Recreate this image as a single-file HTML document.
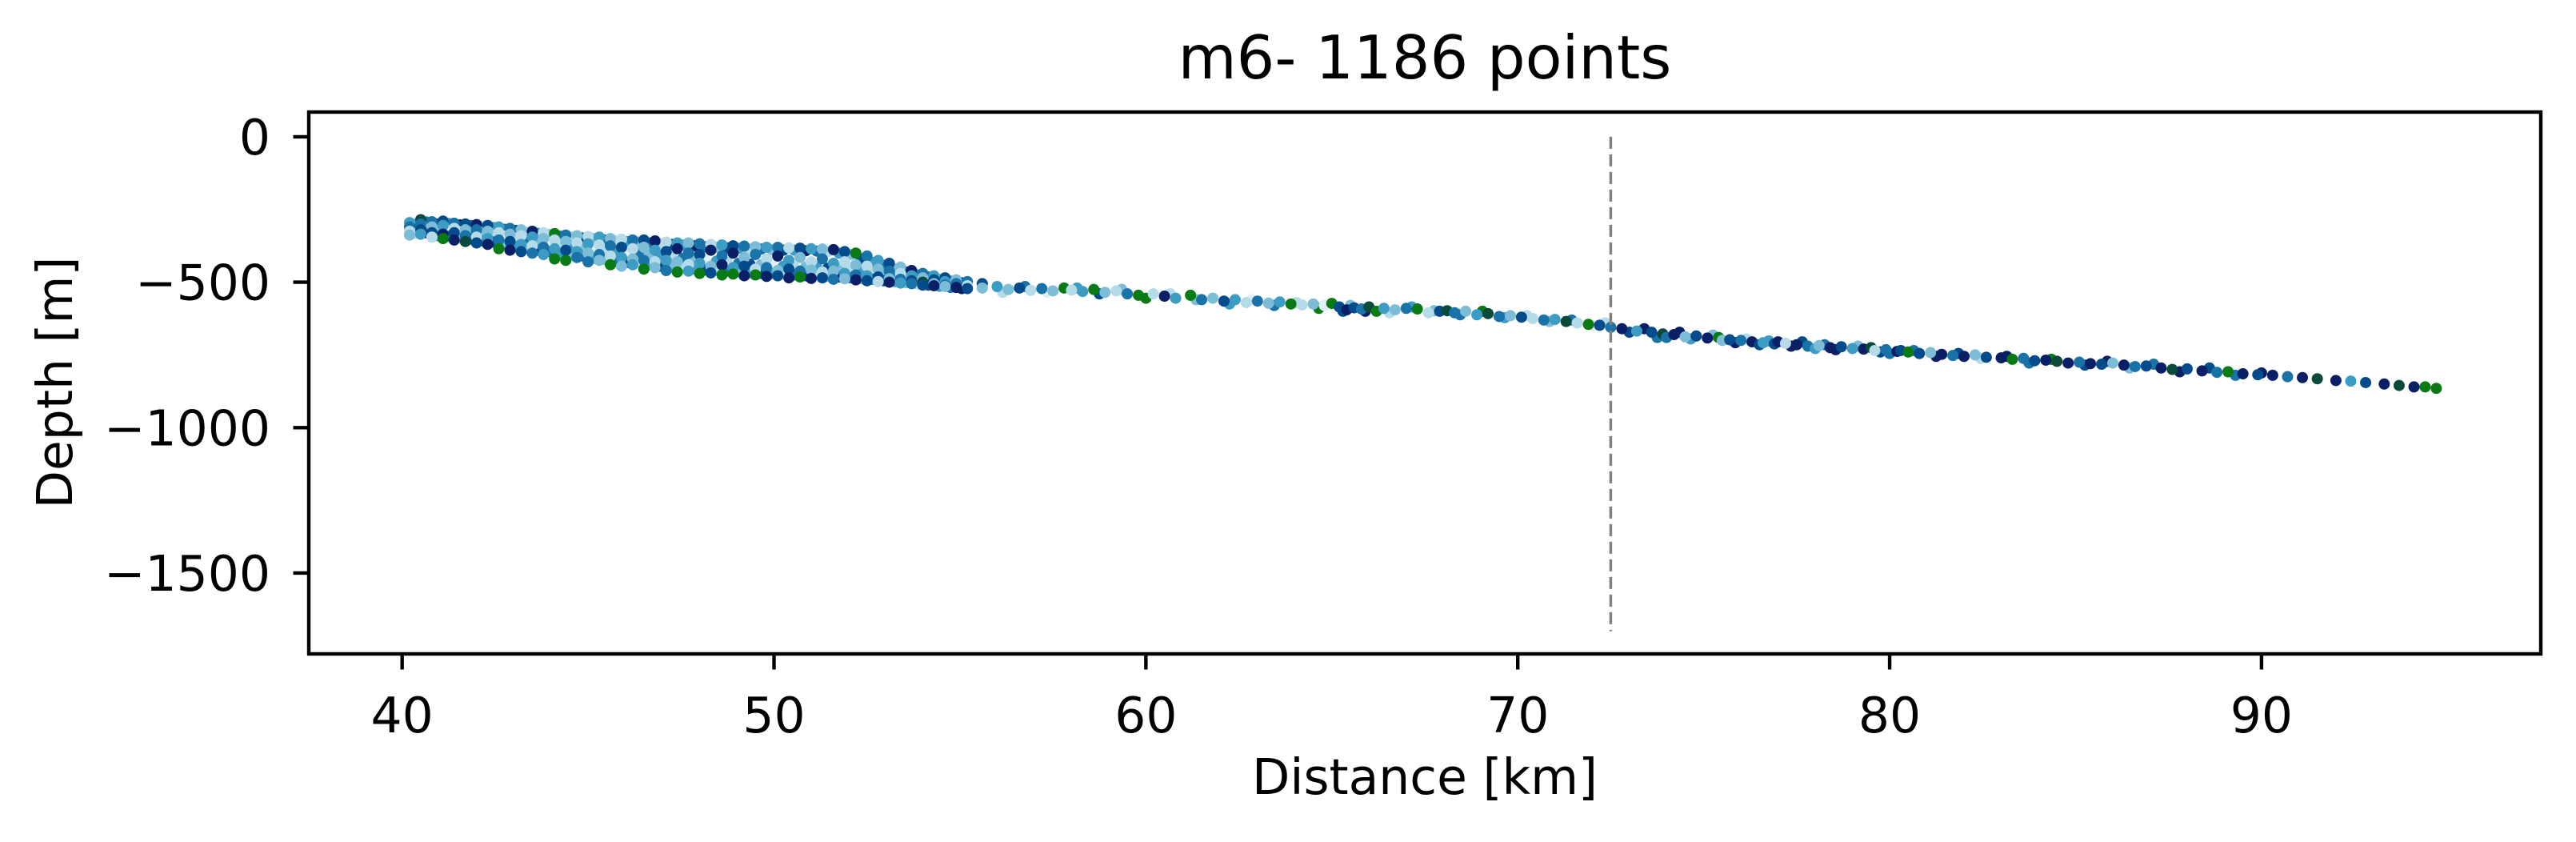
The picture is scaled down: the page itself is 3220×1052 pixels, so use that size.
<!DOCTYPE html>
<html><head><meta charset="utf-8"><style>html,body{margin:0;padding:0;background:#fff}svg{display:block}text{font-family:"DejaVu Sans","Liberation Sans",sans-serif;fill:#000}</style></head>
<body>
<svg id="chart" width="3220" height="1052" xmlns="http://www.w3.org/2000/svg">
<rect width="3220" height="1052" fill="#fff"/>
<g id="marks"></g>
<g id="axes"></g>
</svg>
<script>
const xTicks = [40, 50, 60, 70, 80, 90];
const yTicks = [0, -500, -1000, -1500];
const dividerKm = 72.5;
const dividerDepths = [0, -1700];
const palette = ['#0b1f66','#034b8a','#1a73a8','#3d9cc4','#7cbcd6','#b6dbe8','#e0f0f5','#0a7a14','#0b4a3a'];

const bandX = [40.2,40.5,40.8,41.1,41.4,41.7,42.0,42.3,42.6,42.9,43.2,43.5,43.8,44.1,44.4,44.7,45.0,45.3,45.6,45.9,46.2,46.5,46.8,47.1,47.4,47.7,48.0,48.3,48.6,48.9,49.2,49.5,49.8,50.1,50.4,50.7,51.0,51.3,51.6,51.9,52.2,52.5,52.8,53.1,53.4,53.7,54.0,54.3,54.6,54.9,55.2,55.6];
const bandDepths = [
[-295,-310,-325,-338],[-285,-300,-320,-335],[-292,-310,-330,-345],[-290,-305,-335,-350],
[-297,-315,-330,-355],[-300,-320,-340,-360],[-302,-320,-345,-365],[-305,-325,-350,-370],
[-310,-330,-355,-385],[-315,-335,-360,-390],[-320,-340,-370,-395],[-325,-345,-375,-400],
[-330,-350,-380,-405],[-333,-355,-385,-420],[-338,-360,-390,-425],[-340,-365,-395,-415],
[-343,-368,-400,-430],[-345,-372,-405,-425],[-350,-375,-410,-440],[-352,-380,-415,-445],
[-355,-385,-420,-440],[-355,-380,-425,-455],[-358,-390,-430,-450],[-362,-395,-425,-460],
[-365,-385,-430,-465],[-365,-400,-440,-462],[-368,-405,-435,-470],[-370,-390,-445,-468],
[-372,-410,-440,-475],[-375,-400,-450,-472],[-376,-415,-445,-478],[-378,-405,-455,-475],
[-380,-420,-450,-480],[-380,-410,-460,-478],[-382,-425,-455,-485],[-383,-415,-462,-482],
[-385,-430,-458,-487],[-386,-420,-465,-485],[-388,-435,-462,-490],[-395,-430,-470,-488],
[-400,-440,-475,-492],[-410,-445,-478,-495],[-425,-455,-482,-498],[-435,-462,-488,-500],
[-448,-470,-490,-503],[-460,-478,-495,-505],[-470,-485,-500,-510],[-478,-492,-505,-512],
[-485,-498,-510,-515],[-492,-505,-518],[-498,-512,-522],[-505,-520]];
const bandColors = [
[3,2,5,4],[8,2,1,3],[2,4,1,5],[1,3,0,7],[2,5,1,0],[1,4,2,8],[0,2,5,1],[1,4,3,0],
[3,5,2,7],[2,4,1,0],[4,5,3,1],[0,3,5,2],[5,4,2,3],[7,5,3,7],[2,4,1,7],[4,5,3,2],
[5,3,4,2],[3,5,2,4],[4,2,5,7],[5,1,3,4],[2,5,4,3],[1,4,2,7],[0,3,5,4],[5,1,3,2],
[3,0,4,7],[4,2,5,3],[2,1,3,7],[5,0,4,1],[3,2,0,7],[1,0,3,7],[2,4,1,0],[4,2,5,7],
[3,5,2,0],[2,0,4,1],[5,3,1,0],[1,4,2,7],[3,5,4,0],[4,2,5,1],[0,3,4,2],[1,5,3,4],
[7,4,2,0],[2,5,3,1],[3,4,1,5],[1,2,4,0],[4,5,2,3],[0,3,1,2],[2,4,8,1],[3,1,4,0],
[1,3,2,4],[4,2,0],[2,5,1],[1,4]];

const fillX = [40.35,40.65,40.95,41.25,41.55,41.85,42.15,42.45,42.75,43.05,43.35,43.65,43.95,44.25,44.55,44.85,45.15,45.45,45.75,46.05,46.35,46.65,46.95,47.25,47.55,47.85,48.15,48.45,48.75,49.05,49.35,49.65,49.95,50.25,50.55,50.85,51.15,51.45,51.75,52.05,52.35,52.65,52.95,53.25,53.55,53.85,54.15,54.45,54.75,55.05];
const fillDepths = [
[-300,-318,-332],[-293,-312,-330],[-300,-322,-340],[-298,-318,-342],[-303,-325,-348],[-305,-330,-352],[-308,-333,-358],[-312,-338,-362],
[-318,-342,-372],[-322,-348,-378],[-328,-355,-385],[-332,-360,-390],[-336,-365,-395],[-342,-370,-402],[-345,-375,-408],[-348,-380,-410],
[-350,-385,-418],[-355,-390,-422],[-358,-395,-428],[-360,-398,-432],[-362,-402,-435],[-365,-405,-440],[-368,-410,-445],[-370,-412,-450],
[-372,-418,-452],[-375,-420,-455],[-378,-425,-458],[-380,-428,-460],[-382,-432,-462],[-383,-435,-465],[-385,-438,-468],[-386,-440,-470],
[-388,-442,-470],[-390,-445,-472],[-390,-448,-475],[-392,-448,-478],[-393,-450,-478],[-395,-452,-480],[-400,-455,-482],[-405,-458,-485],
[-420,-462,-488],[-432,-468,-490],[-442,-475,-495],[-455,-482,-498],[-465,-488,-502],[-475,-495,-506],[-482,-500,-510],[-490,-505,-514],
[-496,-510,-518],[-502,-515,-522]];
const fillColors = [
[4,1,5],[2,5,0],[1,4,3],[3,6,2],[0,5,4],[2,3,1],[5,4,2],[3,5,1],
[2,6,4],[1,5,3],[5,2,4],[3,4,1],[4,6,2],[2,5,3],[5,3,4],[1,4,2],
[4,6,3],[2,5,4],[5,3,2],[3,6,1],[4,2,5],[2,4,3],[5,3,1],[1,5,4],
[3,2,5],[0,4,3],[2,6,1],[4,3,5],[1,5,2],[3,2,4],[5,1,3],[2,4,1],
[4,6,3],[1,3,5],[3,5,2],[0,4,1],[2,3,5],[5,1,4],[3,4,0],[4,5,2],
[1,3,4],[3,5,2],[2,4,1],[4,2,3],[1,5,4],[3,2,5],[2,4,1],[4,1,3],
[3,5,2],[1,4,0]];

const lineX = [56.0,56.3,56.6,56.9,57.2,57.5,57.8,58.0,58.3,58.6,58.9,59.2,59.5,59.8,60.2,60.5,60.8,61.2,61.5,61.8,62.1,62.4,62.7,63.0,63.3,63.6,63.9,64.2,64.5,64.8,65.0,65.2,65.4,65.6,65.8,66.0,66.2,66.4,66.7,67.0,67.3,67.6,67.9,68.1,68.3,68.6,68.9,69.2,69.5,69.8,70.1,70.4,70.7,71.0,71.3,71.6,71.9,72.2,72.5,72.8,73.2,73.6,73.9,74.0,74.2,74.5,74.8,75.1,75.4,75.5,75.7,76.0,76.3,76.5,76.6,76.9,77.0,77.2,77.5,77.8,78.0,78.1,78.4,78.7,79.0,79.3,79.5,79.6,79.9,80.0,80.2,80.3,80.5,80.8,81.1,81.4,81.7,82.0,82.3,82.6,83.0,83.3,83.6,83.9,84.2,84.5,84.8,85.1,85.4,85.7,86.0,86.3,86.6,86.9,87.3,87.6,88.0,88.4,88.8,89.1,89.5,89.9,90.3,90.7,91.1,91.5,92.0,92.4,92.8,93.3,93.7,94.1,94.4,94.7];
const lineDepth = [-515,-525,-520,-528,-522,-530,-520,-527,-532,-525,-535,-530,-540,-545,-540,-548,-555,-545,-560,-555,-565,-560,-570,-565,-572,-568,-575,-578,-575,-580,-573,-585,-595,-588,-592,-585,-600,-590,-595,-590,-592,-605,-600,-598,-605,-600,-612,-608,-618,-615,-620,-625,-630,-628,-635,-640,-645,-648,-655,-660,-668,-672,-678,-690,-680,-688,-685,-692,-690,-700,-698,-700,-705,-715,-708,-712,-705,-710,-715,-720,-728,-718,-725,-722,-728,-730,-725,-735,-732,-745,-738,-735,-740,-745,-742,-748,-752,-755,-750,-758,-760,-765,-762,-770,-768,-772,-778,-775,-780,-782,-778,-785,-790,-788,-795,-800,-798,-805,-810,-808,-815,-818,-820,-825,-828,-832,-838,-840,-845,-850,-855,-860,-860,-865];
const lineColor = [3,4,1,5,2,4,7,5,3,7,4,5,2,7,5,0,3,7,2,4,1,3,5,2,4,3,7,5,4,6,7,1,0,1,2,8,7,3,4,2,7,5,1,8,2,4,3,8,2,4,1,5,2,3,8,5,7,1,2,0,3,1,8,2,0,4,1,0,7,4,1,2,0,1,3,1,0,5,0,2,3,4,0,1,3,0,8,5,2,2,0,1,7,1,4,0,2,0,4,1,0,7,2,1,0,8,0,2,0,1,4,0,2,1,0,8,1,0,2,7,0,1,0,2,0,8,0,3,1,0,8,0,7,7];

const extraX = [56.15,56.75,57.35,58.15,58.75,59.35,60.0,60.65,61.35,62.25,62.85,63.45,64.05,64.65,65.3,65.5,65.9,66.55,67.15,67.75,68.45,69.05,69.65,70.25,70.85,71.45,72.05,72.35,73.0,73.4,73.75,74.35,74.65,75.25,75.85,76.15,76.75,77.35,77.65,78.25,78.55,79.15,79.75,80.65,81.25,81.85,82.45,83.15,83.75,84.35,85.25,85.85,86.45,87.1,87.8,88.6,89.3,90.0];
const extraDepth = [-535,-515,-535,-520,-540,-525,-555,-540,-560,-575,-560,-580,-570,-590,-600,-580,-600,-605,-585,-598,-612,-600,-622,-615,-635,-630,-650,-640,-672,-660,-690,-672,-695,-682,-708,-695,-702,-720,-705,-715,-732,-720,-740,-735,-755,-745,-762,-755,-778,-765,-785,-772,-795,-782,-808,-795,-820,-812];
const extraColor = [5,2,6,3,1,4,7,5,4,3,6,2,5,7,1,4,0,5,3,4,2,7,3,5,4,2,6,5,1,0,2,0,3,4,0,5,3,0,1,2,0,4,1,2,0,1,5,0,2,7,1,0,4,2,0,1,2,0];

const L=386, R=3176, T=140, B=817;
const X0=37.49, X1=97.51, Y0=-1778, Y1=85;
const sx = v => L + (v - X0) / (X1 - X0) * (R - L);
const sy = v => B - (v - Y0) / (Y1 - Y0) * (B - T);
const NS = 'http://www.w3.org/2000/svg';
const marks = document.getElementById('marks');
const axes = document.getElementById('axes');
const RAD = 7;
function mk(tag, attrs, parent){const e=document.createElementNS(NS,tag);for(const k in attrs)e.setAttribute(k,attrs[k]);parent.appendChild(e);return e;}
function dot(x, d, c){
  const e = mk('circle',{cx:sx(x),cy:sy(d),r:RAD,fill:palette[c]},marks);
  
  
}
fillX.forEach((x,i)=>{ fillDepths[i].forEach((d,j)=>dot(x,d,fillColors[i][j])); });
bandX.forEach((x,i)=>{ bandDepths[i].forEach((d,j)=>dot(x,d,bandColors[i][j])); });
extraX.forEach((x,i)=>dot(x,extraDepth[i],extraColor[i]));
lineX.forEach((x,i)=>dot(x,lineDepth[i],lineColor[i]));

const dl = mk('line',{x1:sx(dividerKm),x2:sx(dividerKm),y1:sy(dividerDepths[0]),y2:sy(dividerDepths[1]),stroke:'#808080','stroke-width':3.5,'stroke-dasharray':'15,7'},axes);



const frame = mk('rect',{x:L,y:T,width:R-L,height:B-T,fill:'none',stroke:'#000','stroke-width':4.4},axes);



xTicks.forEach(t=>{
  const x=sx(t);
  const tk = mk('line',{x1:x,x2:x,y1:B,y2:B+19.5,stroke:'#000','stroke-width':4.4},axes);
  
  
  const lb = mk('text',{x:x,y:915,'font-size':61.5,'text-anchor':'middle'},axes);
  lb.textContent = t;
  
  
});
yTicks.forEach(t=>{
  const y=sy(t);
  const tk = mk('line',{x1:L-19.5,x2:L,y1:y,y2:y,stroke:'#000','stroke-width':4.4},axes);
  
  
  const lb = mk('text',{x:338,y:y+22,'font-size':61.5,'text-anchor':'end'},axes);
  lb.textContent = t===0 ? '0' : '\u2212' + Math.abs(t);
  
  
});
</script>
<svg style="position:absolute;left:0;top:0" width="3220" height="1052" xmlns="http://www.w3.org/2000/svg">
<text x="1781" y="98" font-size="75" text-anchor="middle">m6- 1186 points</text>
<text x="1781" y="992" font-size="61.5" text-anchor="middle">Distance [km]</text>
<text x="0" y="0" font-size="61.5" text-anchor="middle" transform="translate(90,478) rotate(-90)">Depth [m]</text>
</svg>
</body></html>
